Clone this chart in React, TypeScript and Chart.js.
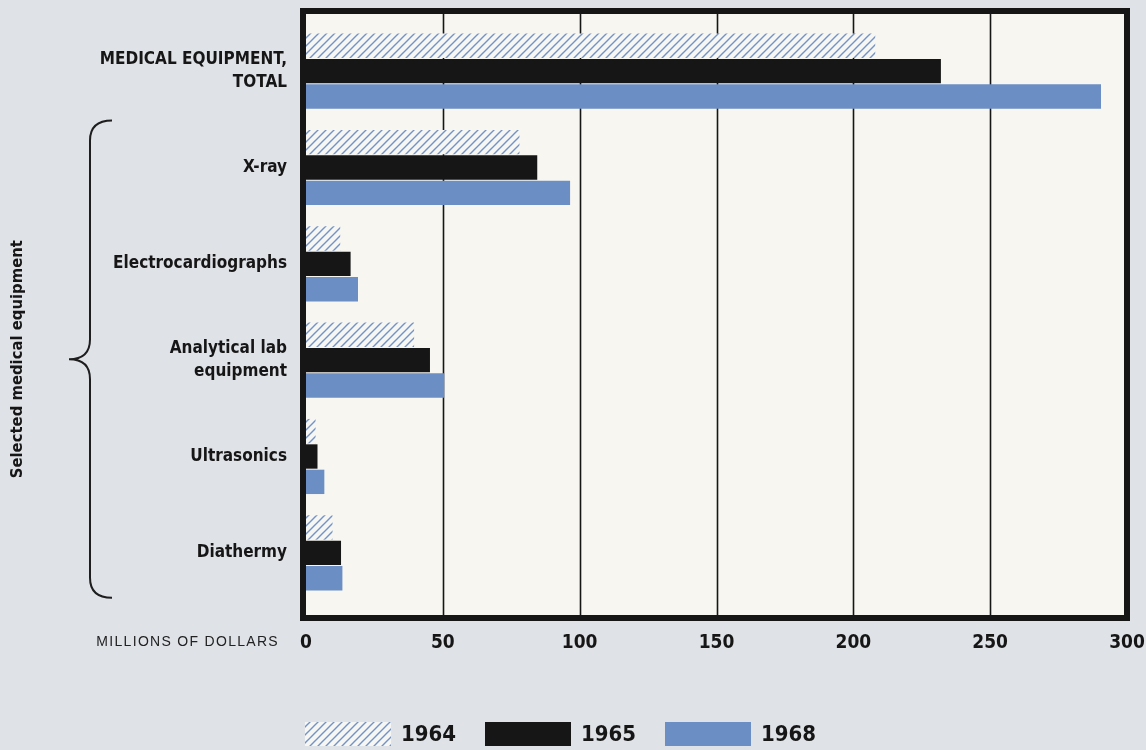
import React, { useEffect, useRef } from "react";
import { Chart, registerables } from "chart.js";

Chart.register(...registerables);

const categories: (string | string[])[] = [
  ["MEDICAL EQUIPMENT,", "TOTAL"],
  "X-ray",
  "Electrocardiographs",
  ["Analytical lab", "equipment"],
  "Ultrasonics",
  "Diathermy",
];
const seriesYears = ["1964", "1965", "1968"];
const values1964 = [208, 78, 12.5, 39.5, 3.5, 9.7];
const values1965 = [232, 84.5, 16.3, 45.3, 4.2, 12.8];
const values1968 = [290.5, 96.5, 19, 50.5, 6.7, 13.3];
const xTickValues = [0, 50, 100, 150, 200, 250, 300];
const axisLabel = "MILLIONS OF DOLLARS";
const groupTitle = "Selected medical equipment";

const COND =
  "'Liberation Sans Narrow','DejaVu Sans Condensed','Roboto Condensed','Arial Narrow','Liberation Sans',sans-serif";
const PAGE_BG = "#dfe2e7";
const PLOT_BG = "#f7f6f1";
const INK = "#161616";
const BLUE = "#6b8ec4";

function makeHatch(): CanvasPattern | string {
  const c = document.createElement("canvas");
  c.width = 8;
  c.height = 8;
  const g = c.getContext("2d");
  if (!g) return BLUE;
  g.fillStyle = PLOT_BG;
  g.fillRect(0, 0, 8, 8);
  g.strokeStyle = "#7193cc";
  g.lineWidth = 1.4;
  g.beginPath();
  g.moveTo(0, 8);
  g.lineTo(8, 0);
  g.moveTo(-4, 4);
  g.lineTo(4, -4);
  g.moveTo(4, 12);
  g.lineTo(12, 4);
  g.stroke();
  return g.createPattern(c, "repeat") || BLUE;
}

const framePlugin = {
  id: "frame",
  beforeDatasetsDraw(chart: any) {
    const { ctx, chartArea } = chart;
    const x = chart.scales.x;
    const left = chartArea.left - 3;
    const right = chartArea.right;
    const top = chartArea.top - 12;
    const bottom = chartArea.bottom + 17;
    ctx.save();
    ctx.fillStyle = PLOT_BG;
    ctx.fillRect(left, top, right - left, bottom - top);
    ctx.strokeStyle = INK;
    ctx.lineWidth = 1.6;
    xTickValues.forEach((v) => {
      if (v === xTickValues[0] || v === xTickValues[xTickValues.length - 1]) return;
      const px = Math.round(x.getPixelForValue(v)) + 0.5;
      ctx.beginPath();
      ctx.moveTo(px, top);
      ctx.lineTo(px, bottom);
      ctx.stroke();
    });
    ctx.restore();
  },
  afterDatasetsDraw(chart: any) {
    const { ctx, chartArea } = chart;
    const left = chartArea.left - 3;
    const right = chartArea.right;
    const top = chartArea.top - 12;
    const bottom = chartArea.bottom + 17;
    ctx.save();
    ctx.strokeStyle = INK;
    ctx.lineWidth = 6;
    ctx.strokeRect(left, top, right - left, bottom - top);
    ctx.restore();
  },
  afterDraw(chart: any) {
    const { ctx, chartArea } = chart;
    const y = chart.scales.y;
    ctx.save();
    // axis unit label
    ctx.fillStyle = "#222";
    ctx.font = "14px 'Liberation Sans', Arial, sans-serif";
    (ctx as any).letterSpacing = "1.3px";
    ctx.textAlign = "right";
    ctx.textBaseline = "middle";
    ctx.fillText(axisLabel, chartArea.left - 27, chartArea.bottom + 41);
    (ctx as any).letterSpacing = "0px";

    // brace spanning the selected equipment categories
    const yTop = y.getPixelForValue(1) - 47;
    const yBot = y.getPixelForValue(5) + 45;
    const mid = (yTop + yBot) / 2;
    const bx = 90;
    const tipX = 69;
    const endX = 112;
    ctx.strokeStyle = "#1e1e1e";
    ctx.lineWidth = 2;
    ctx.beginPath();
    ctx.moveTo(endX, yTop);
    ctx.quadraticCurveTo(bx, yTop, bx, yTop + 20);
    ctx.lineTo(bx, mid - 20);
    ctx.quadraticCurveTo(bx, mid, tipX, mid);
    ctx.quadraticCurveTo(bx, mid, bx, mid + 20);
    ctx.lineTo(bx, yBot - 20);
    ctx.quadraticCurveTo(bx, yBot, endX, yBot);
    ctx.stroke();

    // group title (rotated)
    ctx.translate(18, mid);
    ctx.rotate(-Math.PI / 2);
    ctx.fillStyle = INK;
    ctx.font = `bold 16.5px ${COND}`;
    ctx.textAlign = "center";
    ctx.textBaseline = "middle";
    ctx.fillText(groupTitle, 0, 0);
    ctx.restore();

    // legend
    ctx.save();
    const datasets = chart.data.datasets;
    const boxW = 86;
    const boxH = 24;
    const step = 180;
    const ly = chart.height - 28;
    datasets.forEach((ds: any, i: number) => {
      const lx = chartArea.left - 1 + i * step;
      ctx.fillStyle = ds.backgroundColor;
      ctx.fillRect(lx, ly, boxW, boxH);
      ctx.fillStyle = INK;
      ctx.font = `bold 22px ${COND}`;
      ctx.textAlign = "left";
      ctx.textBaseline = "middle";
      ctx.fillText(ds.label, lx + boxW + 10, ly + boxH / 2 + 1);
    });
    ctx.restore();
  },
};

export default function App() {
  const ref = useRef<HTMLCanvasElement | null>(null);
  useEffect(() => {
    if (!ref.current) return;
    const hatch = makeHatch();
    const chart = new Chart(ref.current, {
      type: "bar",
      data: {
        labels: categories,
        datasets: [
          { label: seriesYears[0], data: values1964, backgroundColor: hatch as any, borderWidth: 0 },
          { label: seriesYears[1], data: values1965, backgroundColor: INK, borderWidth: 0 },
          { label: seriesYears[2], data: values1968, backgroundColor: BLUE, borderWidth: 0 },
        ],
      },
      options: {
        indexAxis: "y",
        responsive: false,
        animation: false,
        events: [],
        layout: { padding: { left: 0, right: 19, top: 23, bottom: 0 } },
        datasets: { bar: { barPercentage: 0.96, categoryPercentage: 0.79 } },
        plugins: { legend: { display: false }, tooltip: { enabled: false }, title: { display: false } },
        scales: {
          x: {
            type: "linear",
            min: 0,
            max: 300,
            afterFit: (s: any) => {
              s.height = 149;
              s.paddingLeft = 0;
              s.paddingRight = 0;
            },
            afterBuildTicks: (s: any) => {
              s.ticks = xTickValues.map((v) => ({ value: v }));
            },
            grid: { display: false, drawTicks: false },
            border: { display: false },
            ticks: {
              padding: 31,
              color: INK,
              font: { family: COND, size: 19, weight: "bold" },
              maxRotation: 0,
            },
          },
          y: {
            type: "category",
            afterFit: (s: any) => {
              s.width = 306;
              s.paddingTop = 0;
              s.paddingBottom = 0;
            },
            grid: { display: false, drawTicks: false },
            border: { display: false },
            ticks: {
              padding: 19,
              color: INK,
              font: { family: COND, size: 17, weight: "bold", lineHeight: 1.4 },
            },
          },
        },
      },
      plugins: [framePlugin],
    });
    return () => chart.destroy();
  }, []);
  return (
    <div style={{ position: "absolute", left: 0, top: 0, width: 1146, height: 750, background: PAGE_BG }}>
      <canvas ref={ref} width={1146} height={750} />
    </div>
  );
}
